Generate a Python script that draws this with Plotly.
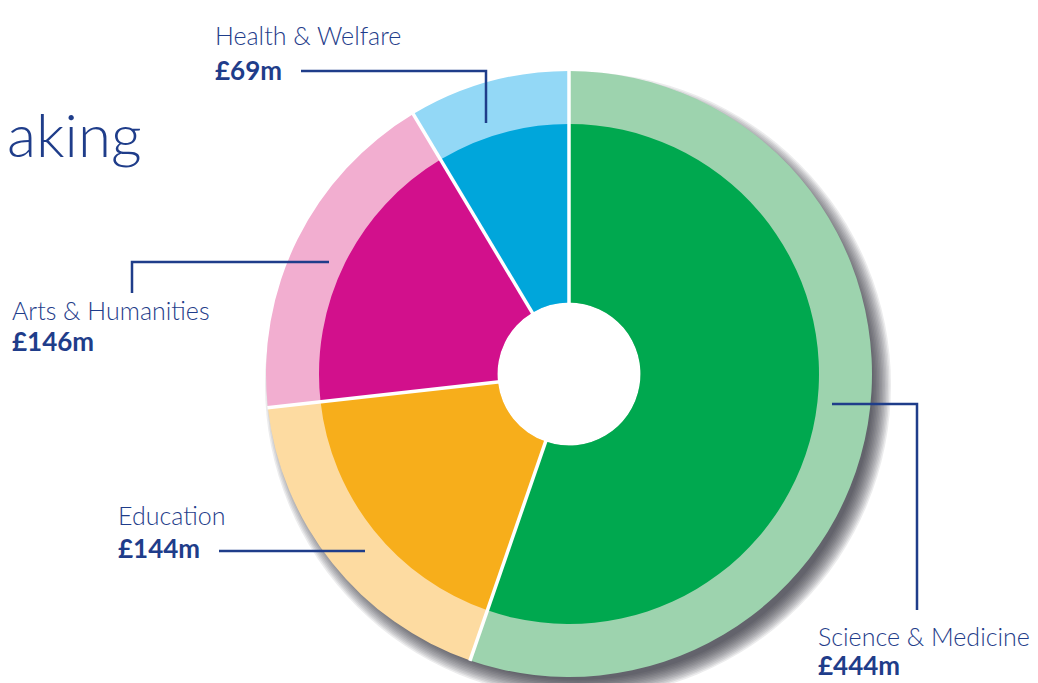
import math
import plotly.graph_objects as go

# page has an 8px body margin; figure placed at (8,8)
OFF = 8
PW, PH = 1038, 683
W, H = PW - OFF, PH - OFF

categories = ["Science & Medicine", "Education", "Arts & Humanities", "Health & Welfare"]
values = [444, 144, 146, 69]
value_labels = ["£444m", "£144m", "£146m", "£69m"]
inner_colors = ["#00A84F", "#F7AE1B", "#D2108C", "#00A6DB"]
outer_colors = ["#9DD3AE", "#FDDBA1", "#F2AED0", "#93D8F6"]

TEXT = "#1F3D8A"
FONT = "Lato"

CX, CY = 569, 374           # page pixels
R_OUT, R_IN, R_HOLE = 303, 250, 71.5


def px(x):
    return (x - OFF) / W


def py(y):
    return 1 - (y - OFF) / H


def dom(cx, cy, r):
    return dict(x=[px(cx - r), px(cx + r)], y=[py(cy + r), py(cy - r)])


fig = go.Figure()

# soft drop shadow (decorative circles beneath the pies)
for k in range(13):
    r = R_OUT - 8 + k * 1.5
    cx, cy = CX + 9, CY + 11
    fig.add_shape(type="circle", xref="paper", yref="paper", layer="below",
                  x0=px(cx - r), x1=px(cx + r), y0=py(cy + r), y1=py(cy - r),
                  fillcolor="rgba(40,40,50,0.085)", line=dict(width=0))
# keep the centre hole white
fig.add_shape(type="circle", xref="paper", yref="paper", layer="below",
              x0=px(CX - R_HOLE - 3), x1=px(CX + R_HOLE + 3),
              y0=py(CY + R_HOLE + 3), y1=py(CY - R_HOLE - 3),
              fillcolor="white", line=dict(width=0))

common = dict(labels=categories, values=values, sort=False, direction="clockwise",
              rotation=0, textinfo="none", showlegend=False)

# outer (light) ring
fig.add_trace(go.Pie(domain=dom(CX, CY, R_OUT), hole=R_HOLE / R_OUT,
                     marker=dict(colors=outer_colors, line=dict(width=0)), **common))
# inner (dark) pie
fig.add_trace(go.Pie(domain=dom(CX, CY, R_IN), hole=R_HOLE / R_IN,
                     marker=dict(colors=inner_colors, line=dict(width=0)), **common))

# white radial separators at the slice boundaries (derived from the values)
total = sum(values)
cum = 0
for v in values:
    ang = math.radians(360 * cum / total)
    x0, y0 = CX + (R_HOLE - 2) * math.sin(ang), CY - (R_HOLE - 2) * math.cos(ang)
    x1, y1 = CX + (R_OUT + 0.5) * math.sin(ang), CY - (R_OUT + 0.5) * math.cos(ang)
    fig.add_shape(type="line", xref="paper", yref="paper", layer="above",
                  x0=px(x0), y0=py(y0), x1=px(x1), y1=py(y1),
                  line=dict(color="white", width=3.5))
    cum += v

# labels: (left x, name center y, value center y) in page pixels
label_pos = {
    "Health & Welfare": (216, 35, 70),
    "Arts & Humanities": (13, 310, 341),
    "Education": (119, 515, 548),
    "Science & Medicine": (819, 636, 665),
}
PAD = 3
for name, val in zip(categories, value_labels):
    x, y1, y2 = label_pos[name]
    fig.add_annotation(x=px(x - PAD), y=py(y1), xref="paper", yref="paper", text=name,
                       showarrow=False, xanchor="left", yanchor="middle",
                       font=dict(family=FONT, size=25, color=TEXT, weight=300))
    fig.add_annotation(x=px(x - PAD), y=py(y2), xref="paper", yref="paper", text="<b>" + val + "</b>",
                       showarrow=False, xanchor="left", yanchor="middle",
                       font=dict(family=FONT, size=26, color=TEXT))

# leader lines
leaders = [
    [(301, 71), (486, 71), (486, 123)],
    [(132, 293), (132, 262), (329, 262)],
    [(219, 551), (365, 551)],
    [(832, 404), (917, 404), (917, 610)],
]
for pts in leaders:
    path = "M " + " L ".join(f"{px(x)},{py(y)}" for x, y in pts)
    fig.add_shape(type="path", path=path, xref="paper", yref="paper",
                  line=dict(color=TEXT, width=2.5))

# partial title text at left edge
fig.add_annotation(x=px(OFF - PAD), y=py(134), xref="paper", yref="paper", text="aking",
                   showarrow=False, xanchor="left", yanchor="middle",
                   font=dict(family=FONT, size=60, color=TEXT, weight=300))

fig.update_layout(width=W, height=H, margin=dict(l=0, r=0, t=0, b=0),
                  paper_bgcolor="white", plot_bgcolor="white")

fig.write_html("out.html")
